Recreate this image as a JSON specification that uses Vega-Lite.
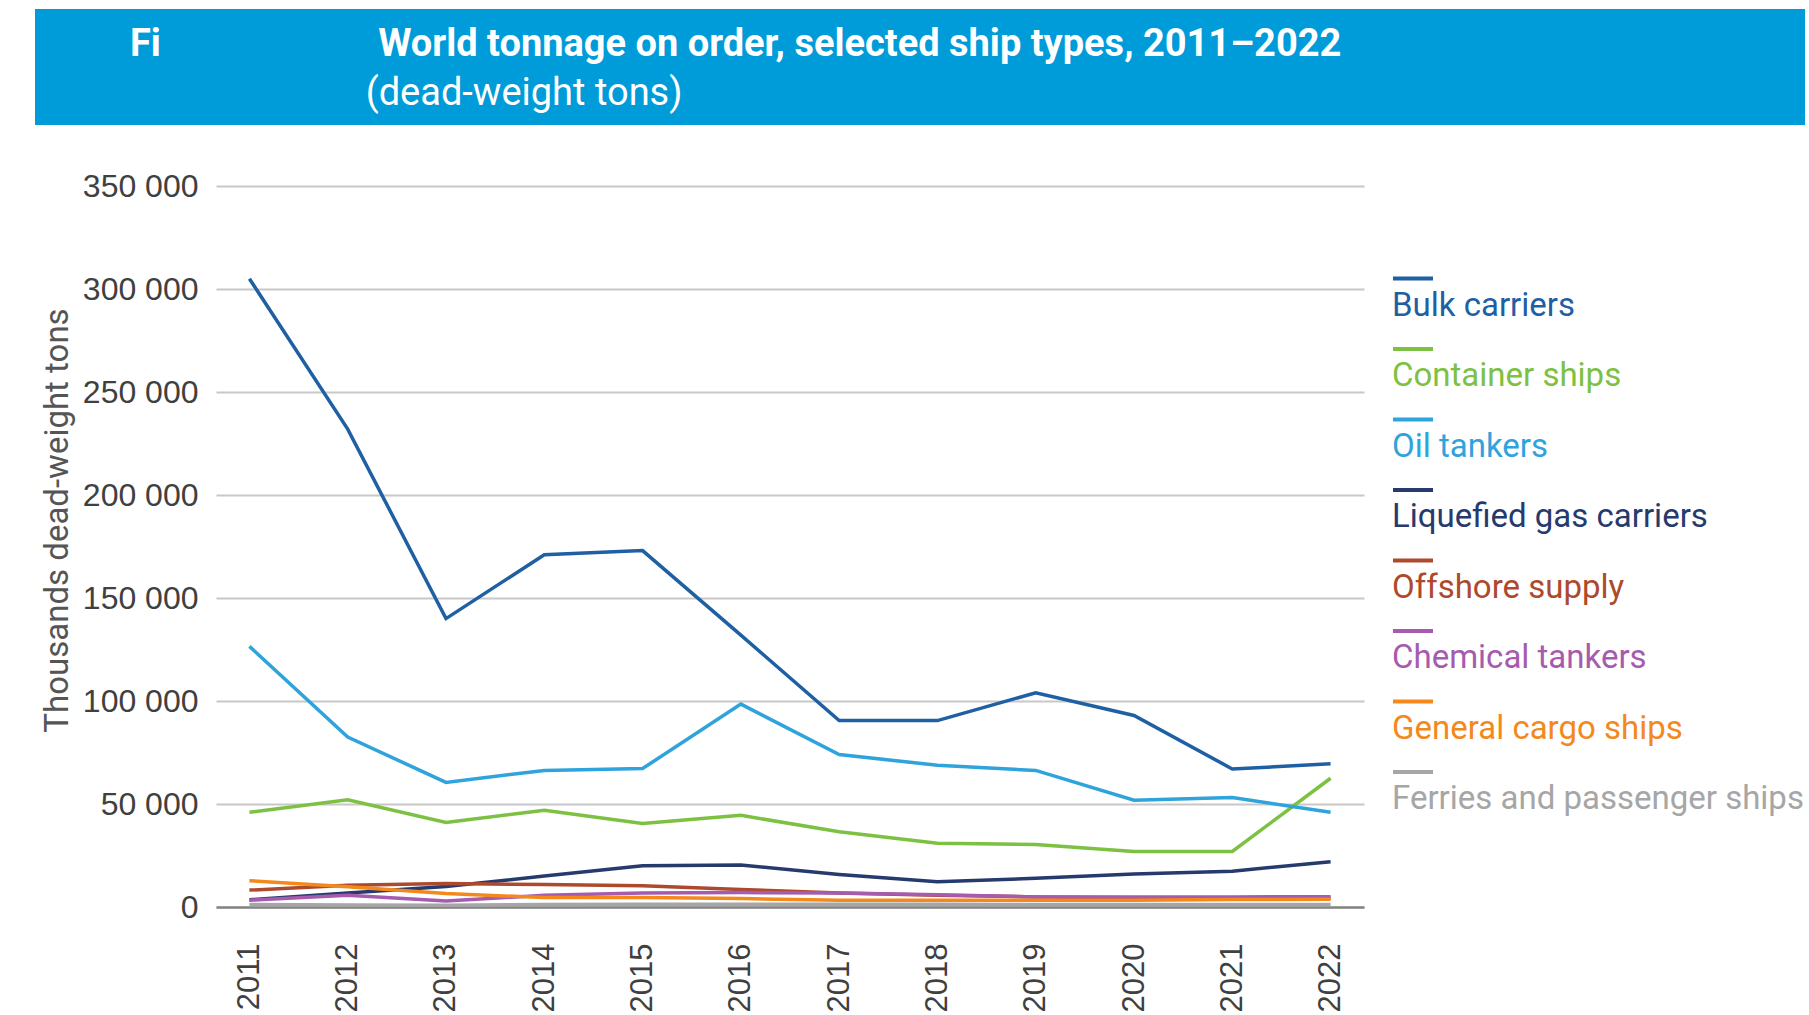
{
  "$schema": "https://vega.github.io/schema/vega-lite/v6.json",
  "background": "white",
  "padding": {"left": 35, "top": 9, "right": 0, "bottom": 0},
  "autosize": {"type": "pad"},
  "spacing": 45,
  "resolve": {"scale": {"color": "independent"}, "legend": {"color": "independent"}},
  "config": {"view": {"stroke": null}, "font": "Liberation Sans"},
  "vconcat": [
    {
      "width": 1770,
      "height": 116,
      "data": {"values": [{"band": "title"}]},
      "view": {"fill": "#009bd9", "stroke": null},
      "title": {
        "text": "Fi\u00a0\u00a0\u00a0\u00a0\u00a0\u00a0\u00a0\u00a0\u00a0\u00a0\u00a0\u00a0\u00a0\u00a0\u00a0\u00a0\u00a0\u00a0\u00a0\u00a0\u00a0\u00a0\u00a0World tonnage on order, selected ship types, 2011–2022",
        "subtitle": "\u200b\u00a0\u00a0\u00a0\u00a0\u00a0\u00a0\u00a0\u00a0\u00a0\u00a0\u00a0\u00a0\u00a0\u00a0\u00a0\u00a0\u00a0\u00a0\u00a0\u00a0\u00a0\u00a0\u00a0\u00a0\u00a0(dead-weight tons)",
        "anchor": "start",
        "orient": "top",
        "frame": "group",
        "offset": -104,
        "dx": 95,
        "font": "Roboto",
        "fontSize": 38,
        "fontWeight": "bold",
        "color": "white",
        "subtitleFont": "Roboto",
        "subtitleFontSize": 38,
        "subtitleFontWeight": "normal",
        "subtitleColor": "white",
        "subtitlePadding": 11
      },
      "mark": {"type": "rect", "color": "#009bd9"},
      "encoding": {}
    },
    {
      "resolve": {"scale": {"color": "independent"}, "legend": {"color": "independent"}},
      "spacing": 0,
      "data": {"values": [
        {"year": "2011", "type": "Bulk carriers", "value": 305000},
        {"year": "2012", "type": "Bulk carriers", "value": 232000},
        {"year": "2013", "type": "Bulk carriers", "value": 140000},
        {"year": "2014", "type": "Bulk carriers", "value": 171000},
        {"year": "2015", "type": "Bulk carriers", "value": 173000},
        {"year": "2016", "type": "Bulk carriers", "value": 132000},
        {"year": "2017", "type": "Bulk carriers", "value": 90500},
        {"year": "2018", "type": "Bulk carriers", "value": 90500},
        {"year": "2019", "type": "Bulk carriers", "value": 104000},
        {"year": "2020", "type": "Bulk carriers", "value": 93000},
        {"year": "2021", "type": "Bulk carriers", "value": 67000},
        {"year": "2022", "type": "Bulk carriers", "value": 69500},
        {"year": "2011", "type": "Container ships", "value": 46000},
        {"year": "2012", "type": "Container ships", "value": 52000},
        {"year": "2013", "type": "Container ships", "value": 41000},
        {"year": "2014", "type": "Container ships", "value": 47000},
        {"year": "2015", "type": "Container ships", "value": 40500},
        {"year": "2016", "type": "Container ships", "value": 44500},
        {"year": "2017", "type": "Container ships", "value": 36500},
        {"year": "2018", "type": "Container ships", "value": 31000},
        {"year": "2019", "type": "Container ships", "value": 30300},
        {"year": "2020", "type": "Container ships", "value": 27000},
        {"year": "2021", "type": "Container ships", "value": 27000},
        {"year": "2022", "type": "Container ships", "value": 62500},
        {"year": "2011", "type": "Oil tankers", "value": 126500},
        {"year": "2012", "type": "Oil tankers", "value": 82500},
        {"year": "2013", "type": "Oil tankers", "value": 60500},
        {"year": "2014", "type": "Oil tankers", "value": 66300},
        {"year": "2015", "type": "Oil tankers", "value": 67200},
        {"year": "2016", "type": "Oil tankers", "value": 98500},
        {"year": "2017", "type": "Oil tankers", "value": 74000},
        {"year": "2018", "type": "Oil tankers", "value": 68800},
        {"year": "2019", "type": "Oil tankers", "value": 66300},
        {"year": "2020", "type": "Oil tankers", "value": 51800},
        {"year": "2021", "type": "Oil tankers", "value": 53100},
        {"year": "2022", "type": "Oil tankers", "value": 46000},
        {"year": "2011", "type": "Liquefied gas carriers", "value": 3500},
        {"year": "2012", "type": "Liquefied gas carriers", "value": 6800},
        {"year": "2013", "type": "Liquefied gas carriers", "value": 10000},
        {"year": "2014", "type": "Liquefied gas carriers", "value": 15000},
        {"year": "2015", "type": "Liquefied gas carriers", "value": 20000},
        {"year": "2016", "type": "Liquefied gas carriers", "value": 20400},
        {"year": "2017", "type": "Liquefied gas carriers", "value": 15800},
        {"year": "2018", "type": "Liquefied gas carriers", "value": 12200},
        {"year": "2019", "type": "Liquefied gas carriers", "value": 13900},
        {"year": "2020", "type": "Liquefied gas carriers", "value": 16000},
        {"year": "2021", "type": "Liquefied gas carriers", "value": 17400},
        {"year": "2022", "type": "Liquefied gas carriers", "value": 22000},
        {"year": "2011", "type": "Offshore supply", "value": 8200},
        {"year": "2012", "type": "Offshore supply", "value": 10500},
        {"year": "2013", "type": "Offshore supply", "value": 11400},
        {"year": "2014", "type": "Offshore supply", "value": 10900},
        {"year": "2015", "type": "Offshore supply", "value": 10300},
        {"year": "2016", "type": "Offshore supply", "value": 8500},
        {"year": "2017", "type": "Offshore supply", "value": 6800},
        {"year": "2018", "type": "Offshore supply", "value": 5700},
        {"year": "2019", "type": "Offshore supply", "value": 4900},
        {"year": "2020", "type": "Offshore supply", "value": 4500},
        {"year": "2021", "type": "Offshore supply", "value": 4200},
        {"year": "2022", "type": "Offshore supply", "value": 4200},
        {"year": "2011", "type": "Chemical tankers", "value": 3300},
        {"year": "2012", "type": "Chemical tankers", "value": 5700},
        {"year": "2013", "type": "Chemical tankers", "value": 2900},
        {"year": "2014", "type": "Chemical tankers", "value": 5700},
        {"year": "2015", "type": "Chemical tankers", "value": 6800},
        {"year": "2016", "type": "Chemical tankers", "value": 7000},
        {"year": "2017", "type": "Chemical tankers", "value": 6800},
        {"year": "2018", "type": "Chemical tankers", "value": 6000},
        {"year": "2019", "type": "Chemical tankers", "value": 4900},
        {"year": "2020", "type": "Chemical tankers", "value": 4900},
        {"year": "2021", "type": "Chemical tankers", "value": 4900},
        {"year": "2022", "type": "Chemical tankers", "value": 5000},
        {"year": "2011", "type": "General cargo ships", "value": 12800},
        {"year": "2012", "type": "General cargo ships", "value": 9800},
        {"year": "2013", "type": "General cargo ships", "value": 6500},
        {"year": "2014", "type": "General cargo ships", "value": 4600},
        {"year": "2015", "type": "General cargo ships", "value": 4600},
        {"year": "2016", "type": "General cargo ships", "value": 4100},
        {"year": "2017", "type": "General cargo ships", "value": 3300},
        {"year": "2018", "type": "General cargo ships", "value": 3300},
        {"year": "2019", "type": "General cargo ships", "value": 3300},
        {"year": "2020", "type": "General cargo ships", "value": 3300},
        {"year": "2021", "type": "General cargo ships", "value": 3600},
        {"year": "2022", "type": "General cargo ships", "value": 3800},
        {"year": "2011", "type": "Ferries and passenger ships", "value": 1200},
        {"year": "2012", "type": "Ferries and passenger ships", "value": 1000},
        {"year": "2013", "type": "Ferries and passenger ships", "value": 800},
        {"year": "2014", "type": "Ferries and passenger ships", "value": 1200},
        {"year": "2015", "type": "Ferries and passenger ships", "value": 1300},
        {"year": "2016", "type": "Ferries and passenger ships", "value": 1300},
        {"year": "2017", "type": "Ferries and passenger ships", "value": 1300},
        {"year": "2018", "type": "Ferries and passenger ships", "value": 1300},
        {"year": "2019", "type": "Ferries and passenger ships", "value": 1200},
        {"year": "2020", "type": "Ferries and passenger ships", "value": 1200},
        {"year": "2021", "type": "Ferries and passenger ships", "value": 1200},
        {"year": "2022", "type": "Ferries and passenger ships", "value": 1200}
      ]},
      "hconcat": [
        {
          "width": 181,
          "height": 721,
          "mark": {"type": "tick", "opacity": 0},
          "encoding": {
            "y": {
              "field": "value",
              "type": "quantitative",
              "scale": {"domain": [0, 350000], "nice": false},
              "axis": {
                "title": "Thousands dead-weight tons",
                "offset": -181,
                "grid": false,
                "values": [0, 50000, 100000, 150000, 200000, 250000, 300000, 350000],
                "labelExpr": "replace(format(datum.value, ','), ',', ' ')",
                "labelFont": "Liberation Sans",
                "labelFontSize": 32,
                "labelColor": "#404040",
                "labelPadding": 18,
                "domain": false,
                "ticks": false,
                "titleFont": "Roboto",
                "titleFontSize": 33,
                "titleFontWeight": "normal",
                "titleColor": "#555555",
                "titlePadding": 8,
                "titleY": 334
              }
            }
          }
        },
        {
          "width": 1148,
          "height": 721,
          "mark": {"type": "line", "strokeWidth": 3.5},
          "encoding": {
            "x": {
              "field": "year",
              "type": "ordinal",
              "scale": {"type": "point", "padding": 0.34},
              "axis": {
                "title": null,
                "labelAngle": -90,
                "labelFont": "Liberation Sans",
                "labelFontSize": 31,
                "labelColor": "#404040",
                "labelPadding": 36,
                "ticks": false,
                "grid": false,
                "domainColor": "#858585",
                "domainWidth": 2.5
              }
            },
            "y": {
              "field": "value",
              "type": "quantitative",
              "scale": {"domain": [0, 350000], "nice": false},
              "axis": {
                "title": null,
                "labels": false,
                "values": [0, 50000, 100000, 150000, 200000, 250000, 300000, 350000],
                "domain": false,
                "ticks": false,
                "gridColor": "#c8c8c8",
                "gridWidth": 2,
                "minExtent": 0
              }
            },
            "color": {
              "field": "type",
              "type": "nominal",
              "scale": {
                "domain": ["Bulk carriers", "Container ships", "Oil tankers", "Liquefied gas carriers", "Offshore supply", "Chemical tankers", "General cargo ships", "Ferries and passenger ships"],
                "range": ["#1f5fa3", "#7dc142", "#2ea3dc", "#263a6e", "#ad4a2d", "#a65bae", "#f3891c", "#a6a6a6"]
              },
              "legend": {
                "title": null,
                "orient": "none",
                "legendX": 1175,
                "legendY": 97.5,
                "direction": "vertical",
                "padding": 0,
                "symbolType": "M-1,-1.35L1,-1.35",
                "symbolSize": 1600,
                "symbolStrokeWidth": 4,
                "labelFont": "Roboto",
                "labelFontSize": 33,
                "labelOffset": -43,
                "labelLimit": 700,
                "rowPadding": 18.5,
                "labelColor": {"expr": "datum.value == 'Bulk carriers' ? '#1f5fa3' : datum.value == 'Container ships' ? '#7dc142' : datum.value == 'Oil tankers' ? '#2ea3dc' : datum.value == 'Liquefied gas carriers' ? '#263a6e' : datum.value == 'Offshore supply' ? '#ad4a2d' : datum.value == 'Chemical tankers' ? '#a65bae' : datum.value == 'General cargo ships' ? '#f3891c' : '#a6a6a6'"}
              }
            }
          }
        }
      ]
    }
  ]
}
